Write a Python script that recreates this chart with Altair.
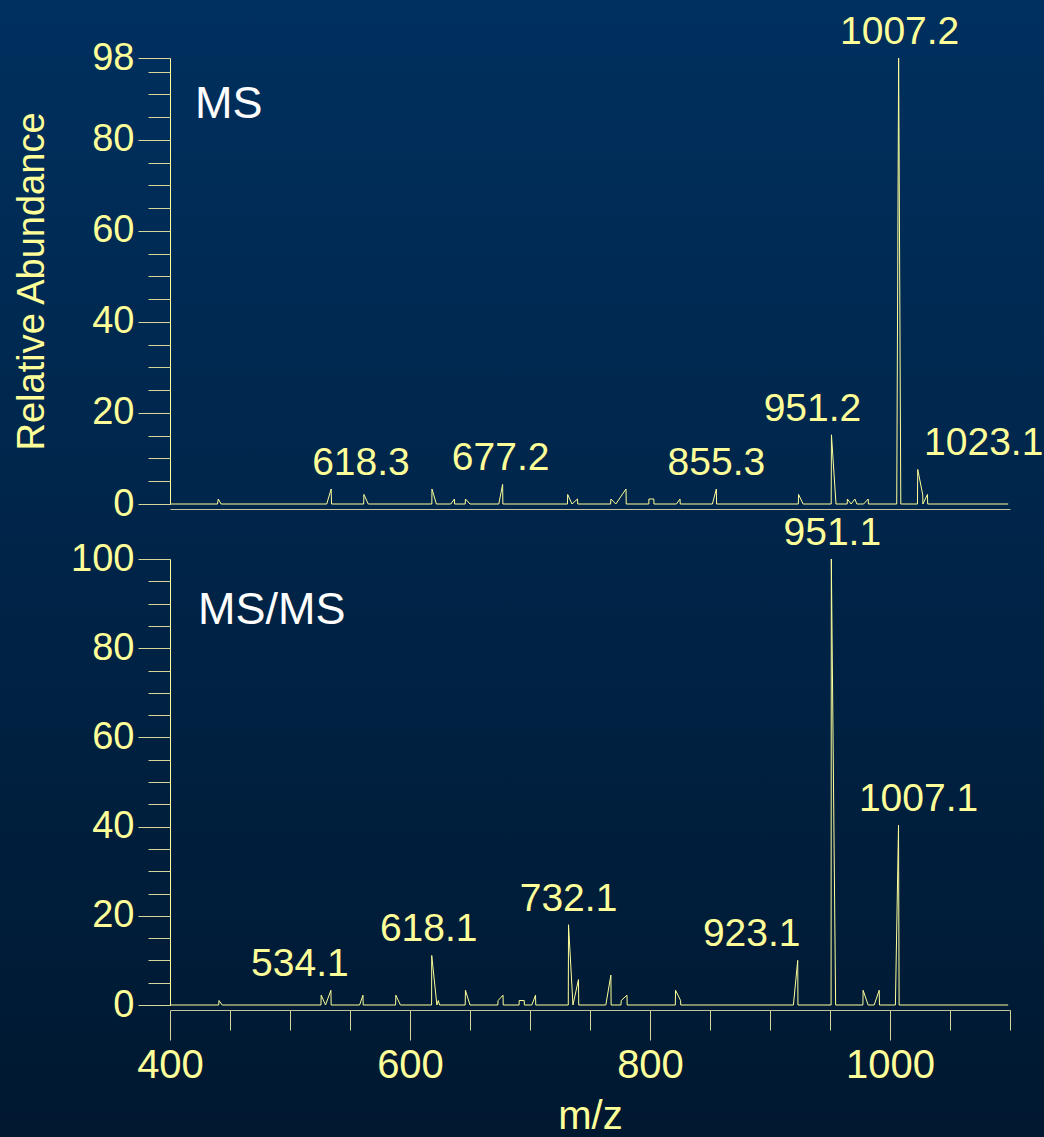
import altair as alt
import pandas as pd

# ---------------------------------------------------------------------------
# Spectra as profile traces: vertices of the plotted line (m/z, relative abundance)
# ---------------------------------------------------------------------------
ms_mz = [400,
         439.6, 440.2, 442.6,
         530.6, 534.3, 534.6,
         561.4, 561.6, 565.2,
         618.2, 618.3, 622.0,
         634.0, 637.0, 637.2,
         646.0, 646.2, 650.0,
         674.0, 677.2, 677.4,
         731.2, 731.4, 735.0, 739.6, 739.8,
         767.2, 767.4, 771.5, 780.0, 780.2,
         799.0, 799.1, 803.2, 803.3,
         822.0, 825.0, 825.2,
         852.0, 855.3, 855.5,
         923.6, 923.8, 927.6,
         951.0, 951.2, 955.0,
         964.3, 964.5, 967.6, 970.7, 972.4,
         978.0, 981.8, 982.0,
         1005.6, 1007.2, 1009.0,
         1022.9, 1023.1, 1027.3, 1027.4, 1031.2, 1031.4,
         1098.5]
ms_ab = [0,
         0, 1.1, 0,
         0, 3.3, 0,
         0, 2.1, 0,
         0, 3.3, 0,
         0, 1.1, 0,
         0, 1.1, 0,
         0, 4.3, 0,
         0, 2.1, 0, 1.1, 0,
         0, 1.1, 0, 3.3, 0,
         0, 1.1, 1.1, 0,
         0, 1.1, 0,
         0, 3.3, 0,
         0, 2.1, 0,
         0, 15.2, 0,
         0, 1.1, 0, 1.1, 0,
         0, 1.1, 0,
         0, 98, 0,
         0, 7.6, 2.0, 0, 2.1, 0,
         0]

msms_mz = [400,
           440.6, 440.8, 443.5,
           525.8, 526.0, 529.6, 534.1, 534.3,
           558.0, 560.8, 561.0,
           588.0, 588.2, 592.0,
           618.0, 618.1, 622.4, 623.6, 624.6,
           646.0, 646.2, 650.0,
           673.2, 673.4, 677.5, 677.7,
           690.9, 691.0, 695.2, 695.3,
           701.5, 704.6, 704.8,
           731.9, 732.1, 735.8, 740.4, 740.6,
           763.2, 767.4, 767.6,
           775.8, 776.0, 780.8, 781.0,
           821.1, 821.3, 825.5, 825.6,
           919.5, 923.1, 923.3,
           950.9, 951.1, 954.7,
           977.4, 977.6, 981.8, 986.8, 991.0, 991.2,
           1004.5, 1007.1, 1007.6,
           1098.5]
msms_ab = [0,
           0, 1.0, 0,
           0, 2.2, 0, 3.3, 0,
           0, 2.2, 0,
           0, 2.2, 0,
           0, 11.1, 0, 1.0, 0,
           0, 3.3, 0,
           0, 1.0, 2.2, 0,
           0, 1.0, 1.0, 0,
           0, 2.2, 0,
           0, 18.0, 0, 5.7, 0,
           0, 6.7, 0,
           0, 1.0, 2.2, 0,
           0, 3.3, 1.0, 0,
           0, 10.0, 0,
           0, 100, 0,
           0, 3.3, 0, 0, 3.3, 0,
           0, 40.3, 0,
           0]

# annotated peaks
ms_peaks = [618.3, 677.2, 855.3, 951.2, 1007.2, 1023.1]
ms_peak_ab = [3.3, 4.3, 3.3, 15.2, 98, 7.6]
msms_peaks = [534.1, 618.1, 732.1, 923.1, 951.1, 1007.1]
msms_peak_ab = [3.3, 11.1, 18.0, 10.0, 100, 40.3]

# axis ticks
x_major = [400, 600, 800, 1000]
x_minor = [450, 500, 550, 650, 700, 750, 850, 900, 950, 1050, 1100]
ms_y_major = [0, 20, 40, 60, 80, 98]
msms_y_major = [0, 20, 40, 60, 80, 100]

# ---------------------------------------------------------------------------
# styling / layout
# ---------------------------------------------------------------------------
FONT = "Liberation Sans"
YELLOW = "#FFFF99"
TICK = "#D6D69A"
XDOMAIN = "#C4C49C"
LINE = "#FFFF99"
W, H = 840, 446
LABEL_DY = -14
ms_label_dx = [-71, -2, 0, -19, 1, 66]
msms_label_dx = [-31, -3, 0, -46, 1, 20]

xscale = alt.Scale(domain=[400, 1100], nice=False, zero=False)
one_row = pd.DataFrame({"k": [0]})


def minor_y(ymax):
    return [v for v in range(5, int(ymax) + 1, 5) if v % 20 != 0]


def panel(mz, ab, peaks, peak_ab, label_dx, ymax, ymajor, tag, tag_xy,
          y_title, bottom, background=None):
    yscale = alt.Scale(domain=[0, ymax], nice=False, zero=True)
    trace = pd.DataFrame({"mz": mz, "ab": ab, "i": range(len(mz))})

    y_major_axis = alt.Axis(
        values=ymajor, orient="left", tickSize=32, tickColor=TICK, tickWidth=1,
        domainColor=YELLOW, domainWidth=1, labelColor=YELLOW, labelFont=FONT,
        labelFontSize=38, labelPadding=4, grid=False, labelFlush=False,
        format="d", zindex=1,
        title=y_title, titleColor=YELLOW, titleFont=FONT, titleFontSize=38,
        titleFontWeight="normal", titlePadding=40)
    y_minor_axis = alt.Axis(
        values=minor_y(ymax), orient="left", tickSize=22, tickColor=TICK,
        tickWidth=1, labels=False, domain=False, grid=False, title=None,
        zindex=1)

    if bottom:
        x_main_axis = alt.Axis(
            values=x_major, orient="bottom", offset=5, tickSize=30,
            tickColor=TICK, domainColor=XDOMAIN, labelColor=YELLOW,
            labelFont=FONT, labelFontSize=40, labelPadding=5, labelFlush=False,
            format="d", zindex=1,
            grid=False, title="m/z", titleColor=YELLOW, titleFont=FONT,
            titleFontSize=40, titleFontWeight="normal", titlePadding=11)
        x_minor_axis = alt.Axis(
            values=x_minor, orient="bottom", offset=5, tickSize=20,
            tickColor=TICK, labels=False, domain=False, grid=False, title=None,
            zindex=1)
    else:
        x_main_axis = alt.Axis(
            orient="bottom", offset=5, ticks=False, labels=False,
            domainColor=XDOMAIN, grid=False, title=None, zindex=1)
        x_minor_axis = None

    layers = []
    if background is not None:
        layers.append(
            alt.Chart(one_row).mark_rect(fill=background).encode(
                x=alt.value(-170), x2=alt.value(874),
                y=alt.value(-58), y2=alt.value(1079)))

    # minor ticks carried by an invisible copy of the trace
    if x_minor_axis is not None:
        minor_x_enc = alt.X("mz:Q", scale=xscale, axis=x_minor_axis)
    else:
        minor_x_enc = alt.X("mz:Q", scale=xscale, axis=None)
    layers.append(
        alt.Chart(trace).mark_line(opacity=0).encode(
            x=minor_x_enc,
            y=alt.Y("ab:Q", scale=yscale, axis=y_minor_axis),
            order=alt.Order("i:Q")))

    layers.append(
        alt.Chart(trace).mark_line(color=LINE, strokeWidth=1).encode(
            x=alt.X("mz:Q", scale=xscale, axis=x_main_axis),
            y=alt.Y("ab:Q", scale=yscale, axis=y_major_axis),
            order=alt.Order("i:Q")))

    for m, a, dx in zip(peaks, peak_ab, label_dx):
        lab = pd.DataFrame({"mz": [m], "ab": [a], "label": [f"{m:.1f}"]})
        layers.append(
            alt.Chart(lab).mark_text(
                align="center", baseline="alphabetic", dx=dx, dy=LABEL_DY,
                font=FONT, fontSize=39, color=YELLOW).encode(
                x=alt.X("mz:Q", scale=xscale, axis=None),
                y=alt.Y("ab:Q", scale=yscale, axis=None),
                text="label:N"))

    layers.append(
        alt.Chart(one_row).mark_text(
            text=tag, align="left", baseline="alphabetic", font=FONT,
            fontSize=45, color="white").encode(
            x=alt.value(tag_xy[0]), y=alt.value(tag_xy[1])))

    return alt.layer(*layers).resolve_axis(x="independent", y="independent") \
        .properties(width=W, height=H)


backdrop = alt.LinearGradient(
    gradient="linear",
    stops=[alt.GradientStop(offset=0, color="#00305F"),
           alt.GradientStop(offset=1, color="#001830")],
    x1=0, x2=0, y1=0, y2=1)

top = panel(ms_mz, ms_ab, ms_peaks, ms_peak_ab, ms_label_dx, 98, ms_y_major,
            "MS", (25, 60), "Relative Abundance", False, background=backdrop)
bottom = panel(msms_mz, msms_ab, msms_peaks, msms_peak_ab, msms_label_dx, 100,
               msms_y_major, "MS/MS", (28, 65), None, True)

chart = alt.vconcat(top, bottom, spacing=55, bounds="flush").properties(
    padding=0, background="#001830"
).configure_view(stroke=None)

chart.save("out.html", embed_options={"renderer": "svg", "actions": False})
